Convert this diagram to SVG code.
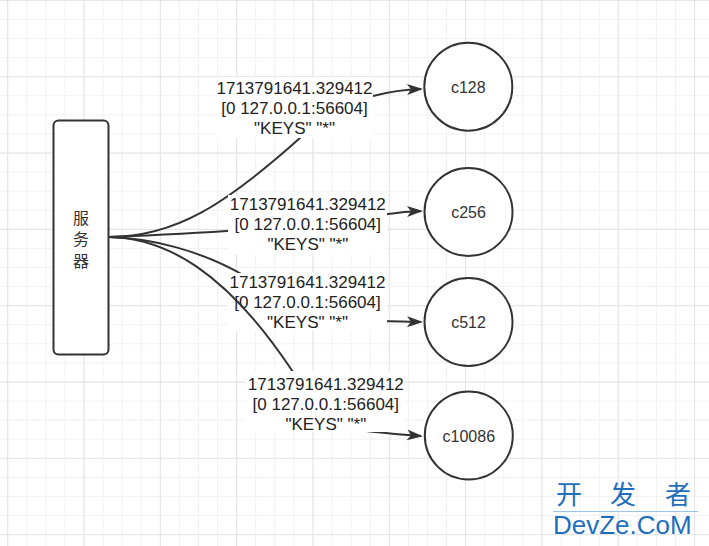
<svg xmlns="http://www.w3.org/2000/svg" width="709" height="546" viewBox="0 0 709 546">
<defs>
<pattern id="minor" width="19.08" height="19.08" patternUnits="userSpaceOnUse" x="7.2" y="-0.1"><path d="M0,0.5 H19.08 M0.5,0 V19.08" stroke="#f1f1f1" stroke-width="1" fill="none"/></pattern>
<pattern id="major" width="76.32" height="76.32" patternUnits="userSpaceOnUse" x="7.2" y="-0.1"><path d="M0,0.5 H76.32 M0.5,0 V76.32" stroke="#e4e4e4" stroke-width="1" fill="none"/></pattern>
<marker id="arr" markerUnits="userSpaceOnUse" markerWidth="20" markerHeight="14" viewBox="-16 -7 20 14" refX="0" refY="0" orient="auto"><path d="M2,0 L-14,-5.5 L-10,0 L-14,5.5 Z" fill="#333"/></marker>
</defs>
<style>
.edge{fill:none;stroke:#333;stroke-width:2}
.lbl{font-family:"Liberation Sans",Arial,sans-serif;font-size:17px;fill:#222;text-anchor:middle}
.lblbg{fill:#fff}
.node{fill:#fff;stroke:#333;stroke-width:2}
.ntxt{font-family:"Liberation Sans",Arial,sans-serif;font-size:16px;fill:#333;text-anchor:middle}
.cjk{font-family:"Noto Sans CJK SC",sans-serif;font-size:16px;fill:#333;text-anchor:middle;writing-mode:vertical-rl;letter-spacing:5.5px}
.wm{fill:#1f6fbf}
.wmc{font-family:"Noto Sans CJK SC",sans-serif;font-size:26px}
</style>
<rect width="709" height="546" fill="#fff"/>
<rect width="709" height="546" fill="url(#minor)"/>
<rect width="709" height="546" fill="url(#major)"/>

<g id="server">
<rect class="node" x="53.5" y="120.5" width="55" height="234" rx="5"/>
<text class="cjk" x="81" y="242">服务器</text>
</g>
<g id="c128"><circle class="node" cx="468.3" cy="86.7" r="44"/><text class="ntxt" x="468.3" y="93">c128</text></g>
<g id="c256"><circle class="node" cx="468.5" cy="212" r="44"/><text class="ntxt" x="468.5" y="218">c256</text></g>
<g id="c512"><circle class="node" cx="468.5" cy="322" r="44"/><text class="ntxt" x="468.5" y="328">c512</text></g>
<g id="c10086"><circle class="node" cx="468.8" cy="435.5" r="44"/><text class="ntxt" x="468.8" y="441.5">c10086</text></g>

<g id="connectors">
<path class="edge" marker-end="url(#arr)" d="M108.7,237 C175,237 225,205 300,138 C330,112 350,102 373,96 C392,91 405,89.5 421,89"/>
<g><rect class="lblbg" x="215" y="77" width="158" height="61"/>
<text class="lbl" x="294.5" y="93.5">1713791641.329412</text>
<text class="lbl" x="294.5" y="113.5">[0 127.0.0.1:56604]</text>
<text class="lbl" x="294.5" y="133.5">"KEYS" "*"</text></g>

<path class="edge" marker-end="url(#arr)" d="M108.7,237 C160,235 200,233 240,230 L380,215 C395,213 405,211.5 421,211"/>
<g><rect class="lblbg" x="228" y="195" width="159" height="59"/>
<text class="lbl" x="307.8" y="210">1713791641.329412</text>
<text class="lbl" x="307.8" y="230">[0 127.0.0.1:56604]</text>
<text class="lbl" x="307.8" y="250">"KEYS" "*"</text></g>

<path class="edge" marker-end="url(#arr)" d="M108.7,237 C150,238 200,250 245,276 L380,321 L421,322"/>
<g><rect class="lblbg" x="227" y="273" width="160" height="58"/>
<text class="lbl" x="307.5" y="288">1713791641.329412</text>
<text class="lbl" x="307.5" y="308">[0 127.0.0.1:56604]</text>
<text class="lbl" x="307.5" y="328">"KEYS" "*"</text></g>

<path class="edge" marker-end="url(#arr)" d="M108.7,237 C165,238 225,270 291.7,370 L330,425 C360,432 390,433.5 421,436"/>
<g><rect class="lblbg" x="246" y="371" width="159" height="61"/>
<text class="lbl" x="325.8" y="389.5">1713791641.329412</text>
<text class="lbl" x="325.8" y="409.5">[0 127.0.0.1:56604]</text>
<text class="lbl" x="325.8" y="429.5">"KEYS" "*"</text></g>
</g>

<g id="watermark">
<text class="wm wmc" x="556" y="504">开</text>
<text class="wm wmc" x="610" y="504">发</text>
<text class="wm wmc" x="665" y="504">者</text>
<line x1="553" y1="511.5" x2="698" y2="511.5" stroke="#9cc3e8" stroke-width="1"/>
<text class="wm" x="553" y="534" style="font-family:'Liberation Sans',Arial,sans-serif;font-size:26px">DevZe.CoM</text>
</g>
</svg>
